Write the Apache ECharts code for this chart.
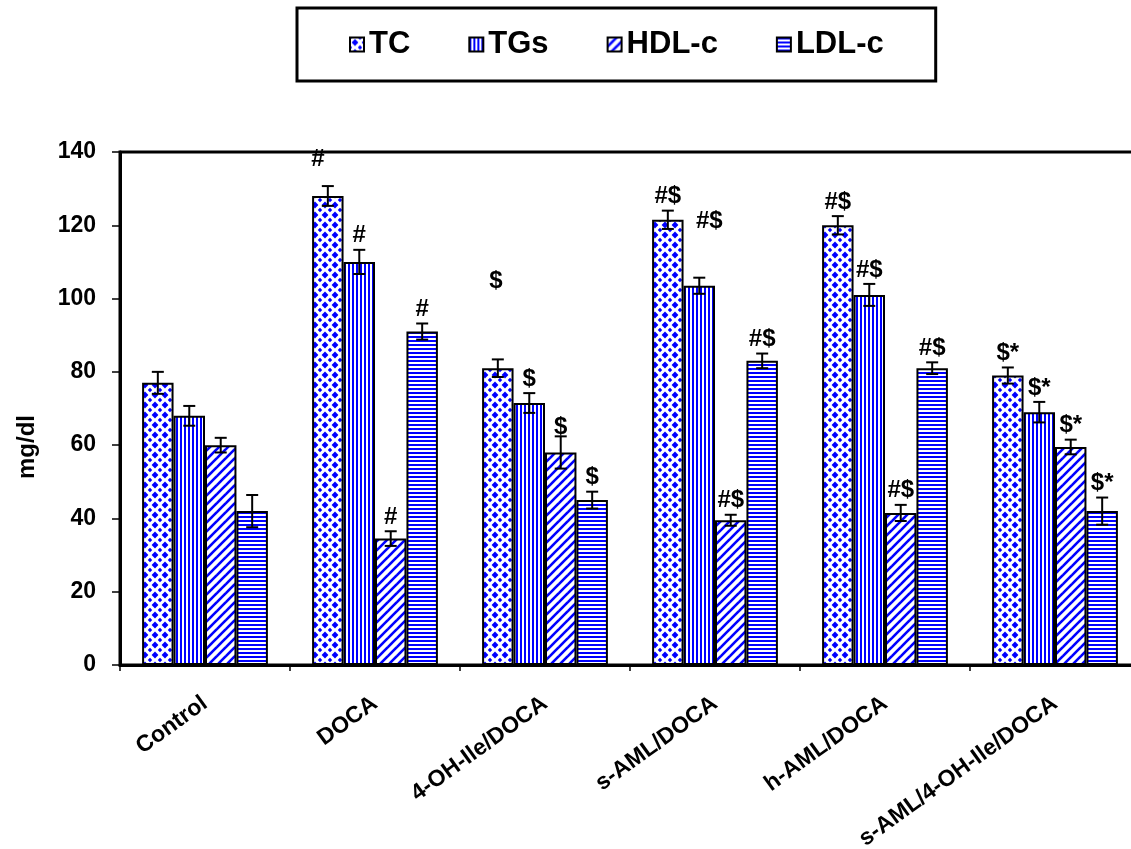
<!DOCTYPE html>
<html>
<head>
<meta charset="utf-8">
<title>Lipid profile</title>
<script src="https://cdn.jsdelivr.net/npm/echarts@6/dist/echarts.min.js"></script>
<style>
  html, body { margin: 0; padding: 0; background: #fff; }
  #chart { width: 1131px; height: 849px; }
</style>
</head>
<body>
<div id="chart"></div>
<script>
// Groups and lipid measures (mg/dl), mean ± error
const groups = ['Control', 'DOCA', '4-OH-Ile/DOCA', 's-AML/DOCA', 'h-AML/DOCA', 's-AML/4-OH-Ile/DOCA'];
const seriesNames = ['TC', 'TGs', 'HDL-c', 'LDL-c'];

const tcValues  = [77, 128, 81, 121.5, 120, 79];
const tgValues  = [68, 110, 71.5, 103.5, 101, 69];
const hdlValues = [60, 34.5, 58, 39.5, 41.5, 59.5];
const ldlValues = [42, 91, 45, 83, 81, 42];

const tcErr  = [3, 2.7, 2.4, 2.5, 2.5, 2.2];
const tgErr  = [2.7, 3.3, 2.7, 2.2, 3, 2.8];
const hdlErr = [2, 2, 4.4, 1.5, 2.2, 2];
const ldlErr = [4.4, 2.2, 2.3, 2, 1.6, 3.7];

// Significance marks
const tcMarks  = ['', '#', '$', '#$', '#$', '$*'];
const tgMarks  = ['', '#', '$', '#$', '#$', '$*'];
const hdlMarks = ['', '#', '$', '#$', '#$', '$*'];
const ldlMarks = ['', '#', '$', '#$', '#$', '$*'];

const yTicks = { min: 0, max: 140, interval: 20 };

// Layout / style constants
const FONT = 'Arial, "Liberation Sans", sans-serif';
const BLUE = '#0000ff';
const GAP_RATIO = 0.26;
// pixel nudges for a few marks, keyed "group-series"
const markNudge = { '1-0': [-10, -13], '2-0': [-2, -64], '2-2': [0, 5], '3-1': [10, -42] };

const values = [tcValues, tgValues, hdlValues, ldlValues];
const errors = [tcErr, tgErr, hdlErr, ldlErr];
const marks  = [tcMarks, tgMarks, hdlMarks, ldlMarks];

function tile(size, draw) {
  const c = document.createElement('canvas');
  c.width = size; c.height = size;
  const g = c.getContext('2d');
  g.fillStyle = '#fff';
  g.fillRect(0, 0, size, size);
  g.fillStyle = BLUE;
  g.strokeStyle = BLUE;
  draw(g, size);
  return { image: c, repeat: 'repeat' };
}
function diamond(g, cx, cy, r) {
  g.beginPath();
  g.moveTo(cx, cy - r); g.lineTo(cx + r, cy); g.lineTo(cx, cy + r); g.lineTo(cx - r, cy);
  g.closePath(); g.fill();
}
const fills = [
  // diamond lattice: large diamonds with smaller ones between
  tile(10, (g, s) => {
    diamond(g, s / 2, s / 2, 3.4);
    [[0, 0], [s, 0], [0, s], [s, s]].forEach(p => diamond(g, p[0], p[1], 2.2));
  }),
  tile(4, (g, s) => { g.fillRect(0, 0, 2, s); }),
  tile(9, (g, s) => {
    g.lineWidth = 2.6;
    [0, s, 2 * s].forEach(k => {
      g.beginPath(); g.moveTo(-2, k + 2); g.lineTo(k + 2, -2); g.stroke();
    });
  }),
  tile(4, (g, s) => { g.fillRect(0, 0, s, 2); })
];

const barSeries = seriesNames.map((name, i) => ({
  name: name,
  type: 'bar',
  data: values[i],
  barGap: '0%',
  barCategoryGap: (GAP_RATIO * 100) + '%',
  itemStyle: { color: fills[i], borderColor: '#000', borderWidth: 2 },
  emphasis: { disabled: true },
  z: 2
}));

const errData = [];
values.forEach((vals, s) => {
  vals.forEach((v, c) => errData.push([c, v, errors[s][c], s]));
});

const errSeries = {
  type: 'custom',
  name: 'err',
  data: errData,
  encode: { x: 0, y: 1 },
  z: 5,
  clip: false,
  renderItem: function (params, api) {
    const c = api.value(0), v = api.value(1), e = api.value(2), s = api.value(3);
    const mark = marks[s][c];
    const band = api.size([1, 0])[0];
    const barW = band * (1 - GAP_RATIO) / 4;
    const center = api.coord([c, 0])[0];
    const x = center - 2 * barW + (s + 0.5) * barW;
    const yTop = api.coord([c, v + e])[1];
    const yBot = api.coord([c, v - e])[1];
    const cap = 6;
    const ls = { stroke: '#000', lineWidth: 2 };
    const children = [
      { type: 'line', shape: { x1: x, y1: yTop, x2: x, y2: yBot }, style: ls },
      { type: 'line', shape: { x1: x - cap, y1: yTop, x2: x + cap, y2: yTop }, style: ls },
      { type: 'line', shape: { x1: x - cap, y1: yBot, x2: x + cap, y2: yBot }, style: ls }
    ];
    if (mark) {
      const n = markNudge[c + '-' + s] || [0, 0];
      children.push({
        type: 'text',
        style: {
          text: mark, x: x + n[0], y: yTop - 14 + n[1],
          align: 'center', verticalAlign: 'middle',
          fill: '#000', fontSize: 24, fontWeight: 'bold', fontFamily: FONT
        },
        z2: 10
      });
    }
    return { type: 'group', children: children };
  }
};

const chart = echarts.init(document.getElementById('chart'), null, { renderer: 'canvas' });
chart.setOption({
  backgroundColor: '#fff',
  animation: false,
  legend: {
    data: seriesNames,
    left: 297,
    top: 8,
    orient: 'horizontal',
    itemWidth: 14,
    itemHeight: 14,
    itemGap: 58,
    padding: [21, 52],
    borderColor: '#000',
    borderWidth: 3,
    borderRadius: 0,
    icon: 'rect',
    selectedMode: false,
    textStyle: { color: '#000', fontSize: 31, fontWeight: 'bold', fontFamily: FONT }
  },
  grid: {
    left: 120, top: 152, width: 1020, height: 513,
    containLabel: false,
    outerBoundsMode: 'none',
    show: true,
    borderColor: '#000',
    borderWidth: 3,
    backgroundColor: 'transparent'
  },
  xAxis: {
    type: 'category',
    data: groups,
    axisLine: { lineStyle: { color: '#000', width: 3 } },
    axisTick: { show: true, length: 6, lineStyle: { color: '#000', width: 1.5 } },
    axisLabel: {
      rotate: 36, margin: 36, interval: 0,
      color: '#000', fontSize: 23, fontWeight: 'bold', fontFamily: FONT
    },
    splitLine: { show: false }
  },
  yAxis: {
    type: 'value',
    min: yTicks.min, max: yTicks.max, interval: yTicks.interval,
    axisLine: { show: true, lineStyle: { color: '#000', width: 3 } },
    axisTick: { show: true, length: 8, lineStyle: { color: '#000', width: 1.5 } },
    axisLabel: { margin: 24, color: '#000', fontSize: 23, fontWeight: 'bold', fontFamily: FONT },
    splitLine: { show: false }
  },
  graphic: [{
    type: 'text',
    x: 27, y: 447,
    rotation: Math.PI / 2,
    style: {
      text: 'mg/dl', align: 'center', verticalAlign: 'middle',
      fill: '#000', fontSize: 24, fontWeight: 'bold', fontFamily: FONT
    }
  }],
  series: barSeries.concat([errSeries])
});
</script>
</body>
</html>
